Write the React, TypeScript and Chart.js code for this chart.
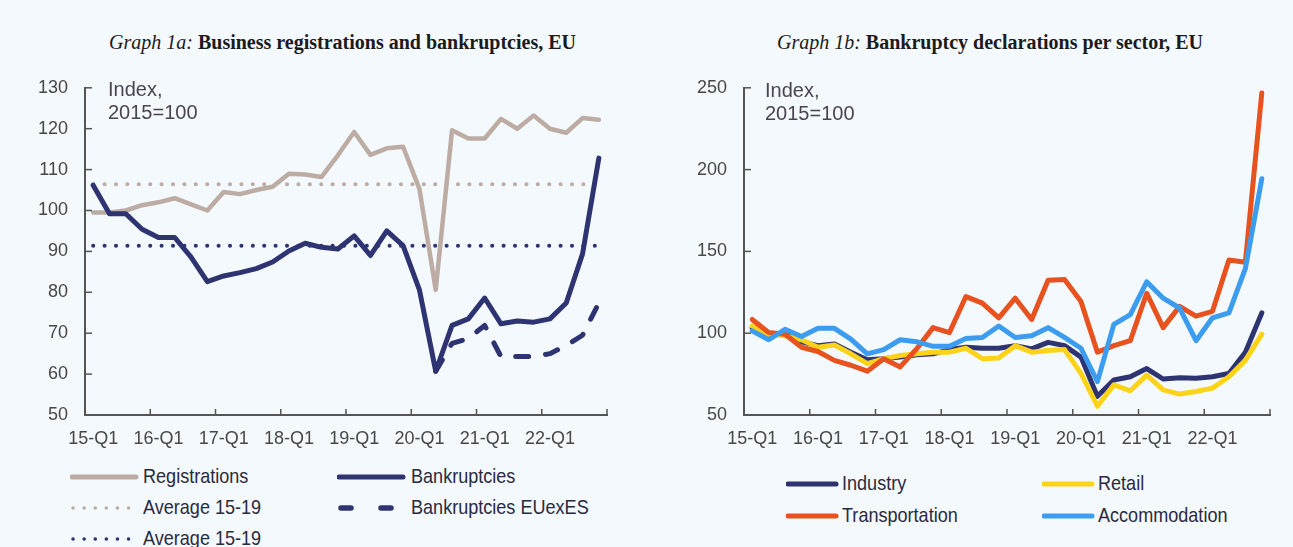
import React, { useEffect, useRef } from 'react';
import { Chart, registerables } from 'chart.js';
Chart.register(...registerables);

// ---------------- DATA ----------------
const quarters = [
  '15-Q1', '15-Q2', '15-Q3', '15-Q4',
  '16-Q1', '16-Q2', '16-Q3', '16-Q4',
  '17-Q1', '17-Q2', '17-Q3', '17-Q4',
  '18-Q1', '18-Q2', '18-Q3', '18-Q4',
  '19-Q1', '19-Q2', '19-Q3', '19-Q4',
  '20-Q1', '20-Q2', '20-Q3', '20-Q4',
  '21-Q1', '21-Q2', '21-Q3', '21-Q4',
  '22-Q1', '22-Q2', '22-Q3', '22-Q4',
];

// Graph 1a
const registrations = [99.5, 99.5, 100, 101.3, 102, 103, 101.5, 100, 104.5, 104, 105, 105.8, 109, 108.8, 108.2, 113.5, 119.2, 113.6, 115.2, 115.6, 105.3, 80.6, 119.6, 117.6, 117.6, 122.4, 120, 123.2, 120, 119, 122.6, 122.2];
const bankruptcies = [106.2, 99.2, 99.2, 95.4, 93.4, 93.4, 88.6, 82.6, 84, 84.8, 85.8, 87.4, 90.1, 92, 91, 90.6, 93.8, 89, 95, 91.4, 80.6, 60.7, 71.9, 73.5, 78.6, 72.3, 73, 72.7, 73.5, 77.4, 89.4, 112.8];
const bankruptciesEUexES = [null, null, null, null, null, null, null, null, null, null, null, null, null, null, null, null, null, null, null, null, null, 60.7, 67.5, 68.7, 71.9, 64.3, 64.3, 64.3, 65, 67, 69.5, 77.4];
const avgRegistrations = 106.4;
const avgBankruptcies = 91.4;
const leftTicks = { min: 50, max: 130, step: 10 };

// Graph 1b
const industry = [103.4, 99.4, 99.4, 94.8, 92.4, 93.4, 88.4, 83.8, 84.4, 85.4, 86.8, 87.4, 90, 91.4, 90.8, 90.8, 92.4, 90.4, 94.4, 92.4, 85.4, 61.4, 71.4, 73.4, 78.4, 72, 72.8, 72.4, 73.4, 75.4, 88.4, 112.4];
const retail = [104.4, 99.4, 98.4, 96, 91.4, 92.8, 87.4, 81.4, 84.4, 86.4, 87.4, 88.4, 88.4, 90.8, 84.4, 84.8, 92.4, 88.4, 89.4, 90, 75.4, 55.4, 68.4, 64.8, 74.4, 65.4, 62.8, 64.4, 66.4, 73.4, 83.4, 99.4];
const transportation = [108.4, 100.4, 99.4, 91.4, 88.8, 83.4, 80.4, 76.8, 84.4, 79.4, 90.4, 103.4, 100.4, 122.4, 118.4, 109.4, 121.4, 108.4, 132.4, 132.8, 119.4, 88.4, 92.4, 95.4, 124.4, 103.4, 116.4, 110.4, 113.4, 144.8, 143.4, 246.8];
const accommodation = [101.4, 96, 102.4, 98, 103, 103, 96.4, 87.4, 90, 96, 94.8, 92, 92, 96.8, 97.4, 104.4, 97.4, 98.4, 103.4, 97.4, 90.8, 70.4, 105.4, 111.4, 131.4, 121.4, 115.4, 95.4, 109.4, 112.4, 139.4, 194.4];
const rightTicks = { min: 50, max: 250, step: 50 };

// ---------------- STYLE ----------------
const BG = '#f4f9fd';
const C_REG = '#bcaca3';
const C_NAVY = '#2e3372';
const C_TRANS = '#e8521f';
const C_ACC = '#3c9df0';
const C_RET = '#fdd31a';
const AXIS = '#555555';
const TEXT = '#474747';
const SANS = "'Liberation Sans', Arial, sans-serif";
const SERIF = "'Liberation Serif', 'Times New Roman', serif";

const innerTicks = {
  id: 'innerTicks',
  afterDraw(chart: any) {
    const ctx = chart.ctx;
    const xs = chart.scales.x;
    const ys = chart.scales.y;
    ctx.save();
    ctx.strokeStyle = AXIS;
    ctx.lineWidth = 1.5;
    ys.ticks.forEach((t: any) => {
      const py = ys.getPixelForValue(t.value);
      if (py >= ys.bottom - 1) return;
      ctx.beginPath();
      ctx.moveTo(xs.left, py);
      ctx.lineTo(xs.left + 7, py);
      ctx.stroke();
    });
    const n = chart.data.labels.length;
    const half = (xs.getPixelForValue(1) - xs.getPixelForValue(0)) / 2;
    for (let k = 4; k <= n; k += 4) {
      const px = k < n ? xs.getPixelForValue(k) - half : xs.getPixelForValue(n - 1) + half;
      ctx.beginPath();
      ctx.moveTo(px, ys.bottom);
      ctx.lineTo(px, ys.bottom - 6);
      ctx.stroke();
    }
    ctx.restore();
  },
};

function makeOptions(t: { min: number; max: number; step: number }, yWidth: number, rightPad: number) {
  return {
    responsive: false,
    animation: false,
    devicePixelRatio: 1,
    layout: { padding: { top: 20, right: rightPad, left: 0, bottom: 0 } },
    plugins: { legend: { display: false }, tooltip: { enabled: false } },
    elements: {
      point: { radius: 0, hoverRadius: 0 },
      line: { tension: 0, borderJoinStyle: 'round', borderCapStyle: 'round' },
    },
    scales: {
      x: {
        type: 'category',
        offset: true,
        grid: { display: false, drawTicks: false },
        border: { display: true, color: AXIS, width: 2 },
        ticks: {
          autoSkip: false,
          maxRotation: 0,
          minRotation: 0,
          padding: 13,
          color: TEXT,
          font: { family: SANS, size: 18 },
          callback: (_v: any, i: number) => (i % 4 === 0 ? quarters[i] : ''),
        },
        afterFit: (s: any) => { s.height = 45; },
      },
      y: {
        min: t.min,
        max: t.max,
        grid: { display: false, drawTicks: false },
        border: { display: true, color: AXIS, width: 2 },
        ticks: { stepSize: t.step, padding: 17, color: TEXT, font: { family: SANS, size: 18 } },
        afterFit: (s: any) => { s.width = yWidth; },
      },
    },
  };
}

function LeftChart() {
  const ref = useRef<HTMLCanvasElement>(null);
  useEffect(() => {
    const chart = new Chart(ref.current as HTMLCanvasElement, {
      type: 'line',
      data: {
        labels: quarters,
        datasets: [
          { label: 'Bankruptcies', data: bankruptcies, borderColor: C_NAVY, borderWidth: 5, order: 0 },
          { label: 'Bankruptcies EUexES', data: bankruptciesEUexES, borderColor: C_NAVY, borderWidth: 5, borderDash: [13, 17], borderCapStyle: 'round', order: 1 },
          { label: 'Registrations', data: registrations, borderColor: C_REG, borderWidth: 4.5, order: 2 },
          { label: 'Average 15-19', data: quarters.map(() => avgBankruptcies), borderColor: C_NAVY, borderWidth: 4, borderDash: [0.1, 11.3], borderCapStyle: 'round', order: 3 },
          { label: 'Average 15-19', data: quarters.map(() => avgRegistrations), borderColor: C_REG, borderWidth: 4, borderDash: [0.1, 11.3], borderCapStyle: 'round', order: 4 },
        ],
      } as any,
      options: makeOptions(leftTicks, 85, 33) as any,
      plugins: [innerTicks],
    });
    return () => chart.destroy();
  }, []);
  return <canvas ref={ref} width={640} height={400} style={{ position: 'absolute', left: 0, top: 60, width: 640, height: 400 }} />;
}

function RightChart() {
  const ref = useRef<HTMLCanvasElement>(null);
  useEffect(() => {
    const chart = new Chart(ref.current as HTMLCanvasElement, {
      type: 'line',
      data: {
        labels: quarters,
        datasets: [
          { label: 'Accommodation', data: accommodation, borderColor: C_ACC, borderWidth: 5, order: 0 },
          { label: 'Transportation', data: transportation, borderColor: C_TRANS, borderWidth: 5, order: 1 },
          { label: 'Retail', data: retail, borderColor: C_RET, borderWidth: 5, order: 2 },
          { label: 'Industry', data: industry, borderColor: C_NAVY, borderWidth: 5, order: 3 },
        ],
      } as any,
      options: makeOptions(rightTicks, 84, 20) as any,
      plugins: [innerTicks],
    });
    return () => chart.destroy();
  }, []);
  return <canvas ref={ref} width={630} height={400} style={{ position: 'absolute', left: 660, top: 60, width: 630, height: 400 }} />;
}

type Sample = { kind: 'solid' | 'dots' | 'dash'; color: string; x: number; w: number };

function LegendItem({ s, y, textX, label }: { s: Sample; y: number; textX: number; label: string }) {
  let line: React.ReactNode;
  if (s.kind === 'solid') {
    line = <line x1={2} y1={6} x2={s.w - 2} y2={6} stroke={s.color} strokeWidth={5} strokeLinecap="round" />;
  } else if (s.kind === 'dots') {
    line = <line x1={3} y1={6} x2={s.w} y2={6} stroke={s.color} strokeWidth={3.5} strokeLinecap="round" strokeDasharray="0.1 11" />;
  } else {
    line = <line x1={4} y1={6} x2={s.w} y2={6} stroke={s.color} strokeWidth={5.5} strokeLinecap="round" strokeDasharray="10 30" />;
  }
  return (
    <>
      <svg width={s.w + 2} height={12} style={{ position: 'absolute', left: s.x, top: y - 6 }}>{line}</svg>
      <div style={{ position: 'absolute', left: textX, top: y - 13, height: 26, lineHeight: '26px', font: `21px ${SANS}`, color: '#2a2a40', whiteSpace: 'nowrap', transform: 'scaleX(0.86)', transformOrigin: 'left center' }}>{label}</div>
    </>
  );
}

const titleStyle: React.CSSProperties = {
  position: 'absolute', top: 30, textAlign: 'center', font: `bold 20px ${SERIF}`, color: '#1b1b1b', whiteSpace: 'nowrap', lineHeight: '24px',
};
const indexStyle: React.CSSProperties = {
  position: 'absolute', font: `20px ${SANS}`, color: '#4a4452', lineHeight: '23px', whiteSpace: 'nowrap',
};

export default function App() {
  return (
    <div style={{ position: 'absolute', left: 0, top: 0, width: 1293, height: 547, background: BG, overflow: 'hidden' }}>
      <div style={{ ...titleStyle, left: 0, width: 685 }}><i style={{ fontWeight: 'normal' }}>Graph 1a:</i> Business registrations and bankruptcies, EU</div>
      <div style={{ ...titleStyle, left: 700, width: 580 }}><i style={{ fontWeight: 'normal' }}>Graph 1b:</i> Bankruptcy declarations per sector, EU</div>
      <LeftChart />
      <RightChart />
      <div style={{ ...indexStyle, left: 108, top: 78 }}>Index,<br />2015=100</div>
      <div style={{ ...indexStyle, left: 765, top: 79 }}>Index,<br />2015=100</div>

      <LegendItem s={{ kind: 'solid', color: C_REG, x: 70, w: 68 }} y={477} textX={143} label="Registrations" />
      <LegendItem s={{ kind: 'dots', color: C_REG, x: 70, w: 62 }} y={508} textX={143} label="Average 15-19" />
      <LegendItem s={{ kind: 'dots', color: C_NAVY, x: 70, w: 62 }} y={539} textX={143} label="Average 15-19" />
      <LegendItem s={{ kind: 'solid', color: C_NAVY, x: 337, w: 68 }} y={477} textX={411} label="Bankruptcies" />
      <LegendItem s={{ kind: 'dash', color: C_NAVY, x: 337, w: 60 }} y={508} textX={411} label="Bankruptcies EUexES" />

      <LegendItem s={{ kind: 'solid', color: C_NAVY, x: 786, w: 52 }} y={484} textX={842} label="Industry" />
      <LegendItem s={{ kind: 'solid', color: C_RET, x: 1042, w: 52 }} y={484} textX={1098} label="Retail" />
      <LegendItem s={{ kind: 'solid', color: C_TRANS, x: 786, w: 52 }} y={516} textX={842} label="Transportation" />
      <LegendItem s={{ kind: 'solid', color: C_ACC, x: 1042, w: 52 }} y={516} textX={1098} label="Accommodation" />
    </div>
  );
}
